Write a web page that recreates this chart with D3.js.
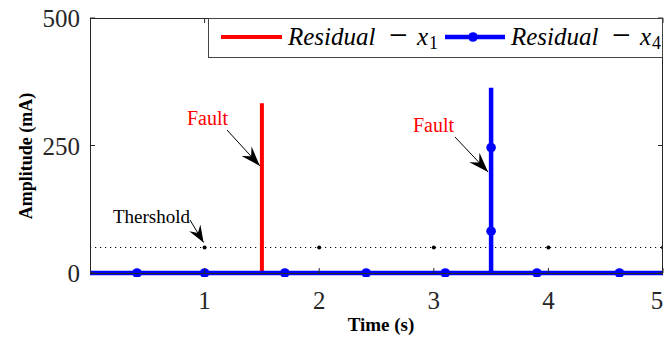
<!DOCTYPE html>
<html>
<head>
<meta charset="utf-8">
<script src="https://cdn.jsdelivr.net/npm/d3@7"></script>
<style>
  html, body { margin: 0; padding: 0; background: #fff; }
  svg { display: block; }
</style>
</head>
<body>
<svg id="chart" width="665" height="338"></svg>
<script>
// Time axis and amplitude ticks
const xTicks = [1, 2, 3, 4, 5];
const yTicks = [0, 250, 500];

// Residual of x1: flat at zero with a fault spike at t = 1.5 s
const residualX1 = [[0, 0], [1.5, 0], [1.5, 333], [1.5, 0], [5, 0]];

// Residual of x4: flat at zero with a fault spike at t = 3.5 s
const residualX4 = [[0, 0], [3.5, 0], [3.5, 363], [3.5, 0], [5, 0]];
const residualX4Markers = [[0.41, 0], [1.0, 0], [1.70, 0], [2.41, 0], [3.10, 0],
                           [3.5, 82], [3.5, 246], [3.90, 0], [4.62, 0]];

// Detection threshold
const thresholdValue = 50;
const thresholdMarkers = [1, 2, 3, 4, 5];

const serif = "'Liberation Serif', 'Times New Roman', serif";
const svg = d3.select("#chart").style("font-family", serif);
const plotL = 90, plotR = 663, plotT = 18, plotB = 273;

const x = d3.scaleLinear().domain([0, 5]).range([plotL, plotR]);
const y = d3.scaleLinear().domain([0, 500]).range([plotB, plotT]);

const axisColor = "#262626";

// clip for plotted data
const defs = svg.append("defs");
defs.append("clipPath").attr("id", "plotClip")
  .append("rect").attr("x", plotL).attr("y", plotT - 2)
  .attr("width", plotR - plotL).attr("height", plotB - plotT + 6);

// arrowhead markers
function arrowHead(id, len, wid) {
  defs.append("marker").attr("id", id)
    .attr("viewBox", `0 ${-wid / 2} ${len} ${wid}`)
    .attr("refX", len).attr("refY", 0)
    .attr("markerUnits", "userSpaceOnUse")
    .attr("markerWidth", len).attr("markerHeight", wid)
    .attr("orient", "auto")
    .append("path")
    .attr("d", `M0,${-wid / 2} L${len},0 L0,${wid / 2} L${len * 0.35},0 Z`)
    .attr("fill", "#000");
}
arrowHead("headBig", 20, 14);
arrowHead("headSmall", 17, 13);

const plot = svg.append("g").attr("clip-path", "url(#plotClip)");

// threshold line
plot.append("line")
  .attr("x1", x(0)).attr("x2", x(5))
  .attr("y1", y(thresholdValue)).attr("y2", y(thresholdValue))
  .attr("stroke", "#000").attr("stroke-width", 1.2)
  .attr("stroke-dasharray", "1.2,3.8");
plot.selectAll(".thr").data(thresholdMarkers).join("circle")
  .attr("cx", d => x(d)).attr("cy", y(thresholdValue)).attr("r", 2)
  .attr("fill", "#000");

const line = d3.line().x(d => x(d[0])).y(d => y(d[1]));

// red residual
plot.append("path").datum(residualX1)
  .attr("d", line).attr("fill", "none")
  .attr("stroke", "#ff0000").attr("stroke-width", 4);

// blue residual
plot.append("path").datum(residualX4)
  .attr("d", line).attr("fill", "none")
  .attr("stroke", "#0000ff").attr("stroke-width", 4.5);
plot.selectAll(".m4").data(residualX4Markers).join("circle")
  .attr("cx", d => x(d[0])).attr("cy", d => y(d[1])).attr("r", 4.8)
  .attr("fill", "#0000ff");

// axes box
svg.append("rect")
  .attr("x", plotL + 0.5).attr("y", plotT + 0.5)
  .attr("width", plotR - plotL - 1).attr("height", plotB - plotT)
  .attr("fill", "none").attr("stroke", axisColor).attr("stroke-width", 1);

// ticks (inward, mirrored on all sides)
const tickLen = 5;
const ticks = svg.append("g").attr("stroke", axisColor).attr("stroke-width", 1);
xTicks.forEach(t => {
  ticks.append("line").attr("x1", x(t)).attr("x2", x(t))
    .attr("y1", plotB).attr("y2", plotB - tickLen);
  ticks.append("line").attr("x1", x(t)).attr("x2", x(t))
    .attr("y1", plotT).attr("y2", plotT + tickLen);
});
yTicks.forEach(t => {
  ticks.append("line").attr("x1", plotL).attr("x2", plotL + tickLen)
    .attr("y1", y(t)).attr("y2", y(t));
  ticks.append("line").attr("x1", plotR).attr("x2", plotR - tickLen)
    .attr("y1", y(t)).attr("y2", y(t));
});

// helper so every label is set in the serif face
function label(sel) { return sel.style("font-family", serif); }

// tick labels (last one kept inside the page edge)
label(svg.selectAll(".xt").data(xTicks).join("text"))
  .attr("x", d => Math.min(x(d), 657)).attr("y", 309)
  .attr("text-anchor", "middle").attr("font-size", 25).attr("fill", axisColor)
  .text(d => d);
label(svg.selectAll(".yt").data(yTicks).join("text"))
  .attr("x", 80).attr("y", d => y(d) + 9)
  .attr("text-anchor", "end").attr("font-size", 25).attr("fill", axisColor)
  .text(d => d);

// axis titles
label(svg.append("text"))
  .attr("x", 381).attr("y", 331)
  .attr("text-anchor", "middle").attr("font-size", 19).attr("font-weight", "bold")
  .attr("fill", "#000").text("Time (s)");
label(svg.append("text"))
  .attr("transform", "translate(32,156) rotate(-90)")
  .attr("text-anchor", "middle").attr("font-size", 18).attr("font-weight", "bold")
  .attr("fill", "#000").text("Amplitude (mA)");

// annotations
label(svg.append("text")).attr("x", 187).attr("y", 125)
  .attr("font-size", 20).attr("fill", "#ff0000").text("Fault");
svg.append("line")
  .attr("x1", 227).attr("y1", 130).attr("x2", x(1.5) - 2).attr("y2", y(210))
  .attr("stroke", "#000").attr("stroke-width", 1).attr("marker-end", "url(#headBig)");

label(svg.append("text")).attr("x", 413).attr("y", 132)
  .attr("font-size", 20).attr("fill", "#ff0000").text("Fault");
svg.append("line")
  .attr("x1", 455).attr("y1", 137).attr("x2", x(3.5) - 3).attr("y2", y(198))
  .attr("stroke", "#000").attr("stroke-width", 1).attr("marker-end", "url(#headBig)");

label(svg.append("text")).attr("x", 113).attr("y", 223)
  .attr("font-size", 19).attr("fill", "#000").text("Thershold");
svg.append("line")
  .attr("x1", 190).attr("y1", 220).attr("x2", x(1) - 1).attr("y2", y(thresholdValue) - 5)
  .attr("stroke", "#000").attr("stroke-width", 1).attr("marker-end", "url(#headSmall)");

// legend
const lg = svg.append("g");
lg.append("rect")
  .attr("x", 208.5).attr("y", 18.5).attr("width", 454).attr("height", 39)
  .attr("fill", "#fff").attr("stroke", "#444").attr("stroke-width", 1);
lg.append("line").attr("x1", 221).attr("x2", 282).attr("y1", 37).attr("y2", 37)
  .attr("stroke", "#ff0000").attr("stroke-width", 4);
lg.append("line").attr("x1", 445).attr("x2", 505).attr("y1", 37).attr("y2", 37)
  .attr("stroke", "#0000ff").attr("stroke-width", 4.5);
lg.append("circle").attr("cx", 473).attr("cy", 37).attr("r", 4.8).attr("fill", "#0000ff");

function legendLabel(x0, sub) {
  const t = label(lg.append("text")).attr("y", 45).attr("font-size", 25).attr("fill", "#000");
  t.append("tspan").attr("x", x0).attr("font-style", "italic").text("Residual");
  t.append("tspan").attr("x", x0 + 101).attr("font-size", 33).attr("y", 46).text("−");
  t.append("tspan").attr("x", x0 + 129).attr("y", 45).attr("font-style", "italic").text("x");
  t.append("tspan").attr("x", x0 + 141).attr("y", 49).attr("font-size", 18).text(sub);
}
legendLabel(288, "1");
legendLabel(511, "4");
</script>
</body>
</html>
